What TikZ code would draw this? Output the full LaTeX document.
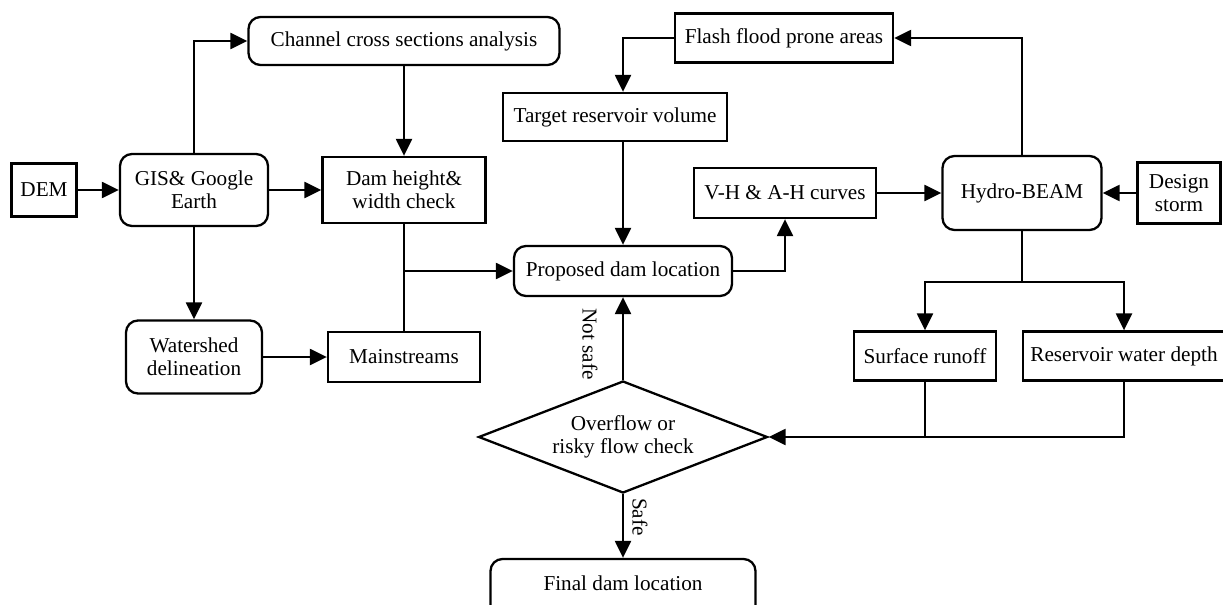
\documentclass[tikz,border=0pt]{standalone}
\usepackage{fontspec}
\setmainfont{Liberation Serif}
\usepackage{tikz}
\usetikzlibrary{arrows.meta,shapes.geometric}

\begin{document}
\begin{tikzpicture}[
	x=0.5pt, y=-0.5pt,
	line width=1.15pt,
	every node/.style={font=\fontsize{10.6}{11.5}\selectfont},
	myrect/.style={
		draw,
		align=center,
		inner sep=0pt
	},
	myround/.style={
		myrect,
		rounded corners=6pt
	},
	mycheck/.style={
		draw,
		diamond,
		aspect=2.6,
		align=center,
		inner sep=0pt,
		minimum width=144.5pt,
		minimum height=56pt
	},
	myarrow/.style={-{Triangle[length=8.5pt,width=8pt]}},
	mylabel/.style={rotate=-90, inner sep=0pt}]

	\useasboundingbox (0,0) rectangle (1223,605);

	\node[myrect, minimum width=32.5pt, minimum height=26.5pt] (dem) at (44,190) {DEM};
	\node[myround, minimum width=74pt, minimum height=36pt] (gis) at (194,190) {GIS\& Google\\Earth};
	\node[myround, minimum width=155.5pt, minimum height=24pt] (chan) at (404,41) {Channel cross sections analysis};
	\node[myrect, minimum width=81.5pt, minimum height=33pt] (dam) at (404,190) {Dam height\&\\width check};
	\node[myround, minimum width=68pt, minimum height=36.5pt] (shed) at (194,357) {Watershed\\delineation};
	\node[myrect, minimum width=76pt, minimum height=25pt] (main) at (404,357) {Mainstreams};

	\node[myrect, minimum width=109pt, minimum height=24.5pt] (flash) at (784,38) {Flash flood prone areas};
	\node[myrect, minimum width=112pt, minimum height=24pt] (target) at (615,117) {Target reservoir volume};
	\node[myround, minimum width=109pt, minimum height=25pt] (prop) at (623,271) {Proposed dam location};
	\node[myrect, minimum width=91pt, minimum height=25pt] (vh) at (785,193) {V-H \& A-H curves};
	\node[myround, minimum width=79.5pt, minimum height=37pt] (hydro) at (1022,193) {Hydro-BEAM};
	\node[myrect, minimum width=41.5pt, minimum height=30.5pt] (storm) at (1179,193) {Design\\storm};
	\node[myrect, minimum width=71pt, minimum height=24.5pt] (surf) at (925,356) {Surface runoff};
	\node[myrect, minimum width=101pt, minimum height=24.5pt] (resv) at (1124,356) {Reservoir water depth};

	\node[mycheck] (check) at (623,437) {Overflow or\\risky flow check};
	\node[myround, minimum width=132.5pt, text height=15.5pt, text depth=20pt, anchor=base] (final) at (623,590) {Final dam location};

	\node[mylabel] (notsafe) at (590,344) {Not safe};
	\node[mylabel] (safe) at (640,517) {Safe};

	\coordinate (split) at (1022,282);

	\draw[myarrow] (dem) -- (gis);
	\draw[myarrow] (gis.north) |- (chan.west);
	\draw[myarrow] (chan.south) -- (dam.north);
	\draw[myarrow] (gis.east) -- (dam.west);
	\draw[myarrow] (gis.south) -- (shed.north);
	\draw[myarrow] (shed.east) -- (main.west);
	\draw (dam.south) -- (main.north);
	\draw[myarrow] (dam.south |- prop.west) -- (prop.west);

	\draw[myarrow] (flash.west) -| (target.north -| prop.north);
	\draw[myarrow] (target.south -| prop.north) -- (prop.north);
	\draw[myarrow] (prop.east) -| (vh.south);
	\draw[myarrow] (vh.east) -- (hydro.west);
	\draw[myarrow] (storm.west) -- (hydro.east);
	\draw[myarrow] (hydro.north) |- (flash.east);

	\draw (hydro.south) -- (split);
	\draw[myarrow] (split) -| (surf.north);
	\draw[myarrow] (split) -| (resv.north);
	\draw (surf.south) -- (surf.south |- check.east);
	\draw[myarrow] (resv.south) |- (check.east);

	\draw[myarrow] (check.north) -- (prop.south);
	\draw[myarrow] (check.south) -- (final.north);
\end{tikzpicture}
\end{document}
